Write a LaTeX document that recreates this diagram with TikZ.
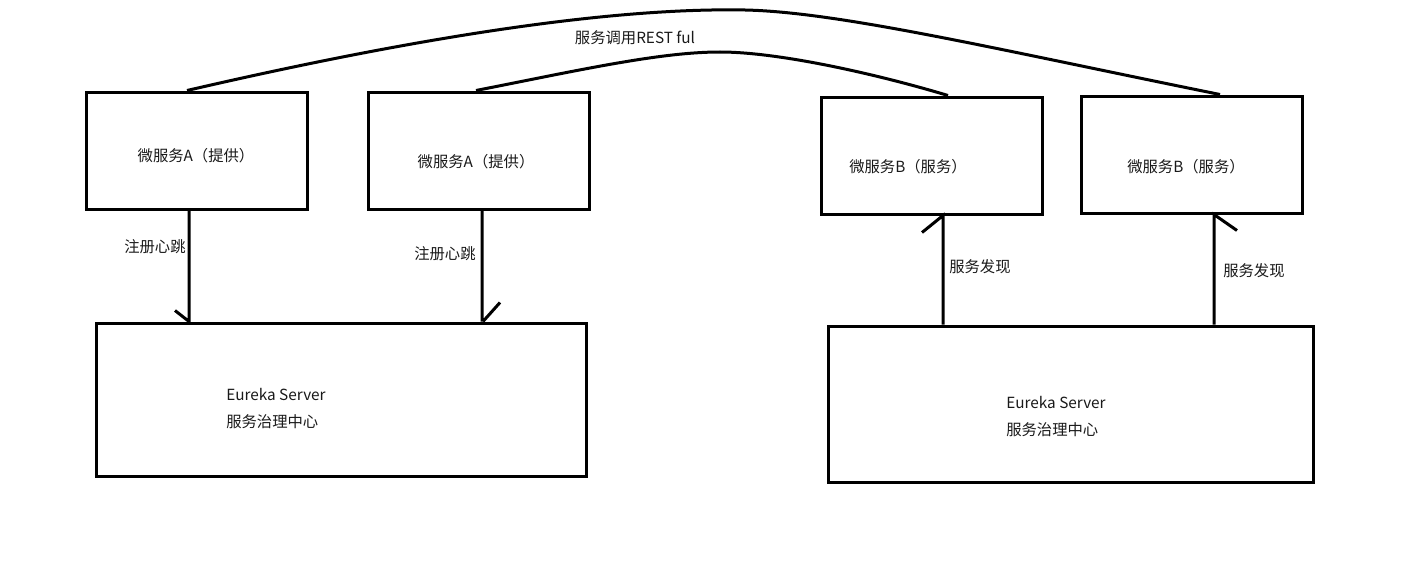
\documentclass[tikz,border=0pt]{standalone}
\usepackage{fontspec}
\setmainfont{Noto Sans CJK SC}
\begin{document}
\begin{tikzpicture}[x=0.75pt,y=-0.75pt,
  box/.style={draw,line width=2.25pt,inner sep=0pt,minimum width=165.75pt,minimum height=87.75pt},
  ln/.style={line width=2.25pt},
  txt/.style={inner sep=0pt,font=\fontsize{11.5pt}{14pt}\selectfont,text=black!90}]
\useasboundingbox (0,0) rectangle (1416,560);
% boxes
\node[box] (a1) at (196.5,150.5) {};
\node[box] (a2) at (478.5,150.5) {};
\node[box] (b1) at (932,155.5) {};
\node[box] (b2) at (1191.5,154.5) {};
\node[box,minimum width=367.5pt,minimum height=114.75pt] (e1) at (341,399.5) {};
\node[box,minimum width=363.75pt,minimum height=117pt] (e2) at (1070.5,404) {};
% box texts
\node[txt] (ta1) at (196,156) {微服务A（提供）};
\node[txt] (ta2) at (476,162) {微服务A（提供）};
\node[txt] (tb1) at (908,167) {微服务B（服务）};
\node[txt] (tb2) at (1186,167) {微服务B（服务）};
\node[txt,anchor=west] (te1a) at (226,394) {Eureka Server};
\node[txt,anchor=west] (te1b) at (226,422) {服务治理中心};
\node[txt,anchor=west] (te2a) at (1006,402) {Eureka Server};
\node[txt,anchor=west] (te2b) at (1006,430) {服务治理中心};
% registration arrows
\draw[ln] (a1.south -| 189,0) -- (e1.north -| 189,0) -- ++(-14,-11);
\draw[ln] (a2.south -| 482,0) -- (e1.north -| 482,0) ++(1,0) -- ++(17,-19);
\node[txt,anchor=west] (l1) at (124,247) {注册心跳};
\node[txt,anchor=west] (l2) at (414,254) {注册心跳};
% discovery arrows
\draw[ln] (e2.north -| 943,0) -- (b1.south -| 943,0) -- ++(-21,17);
\draw[ln] (e2.north -| 1214,0) -- (b2.south -| 1214,0) -- ++(23,16);
\node[txt,anchor=west] (l3) at (949,267) {服务发现};
\node[txt,anchor=west] (l4) at (1223,271) {服务发现};
% REST calls
\draw[ln] (a1.north -| 187,0) .. controls (470,25) and (640,8) .. (745,10)
  .. controls (840,12) and (1000,50) .. (b2.north -| 1220,0);
\draw[ln] (a2.north -| 476,0) .. controls (580,70) and (660,52) .. (720,52)
  .. controls (780,52) and (880,75) .. (b1.north -| 948,0);
\node[txt] (rest) at (635,38) {服务调用REST ful};
\end{tikzpicture}
\end{document}
